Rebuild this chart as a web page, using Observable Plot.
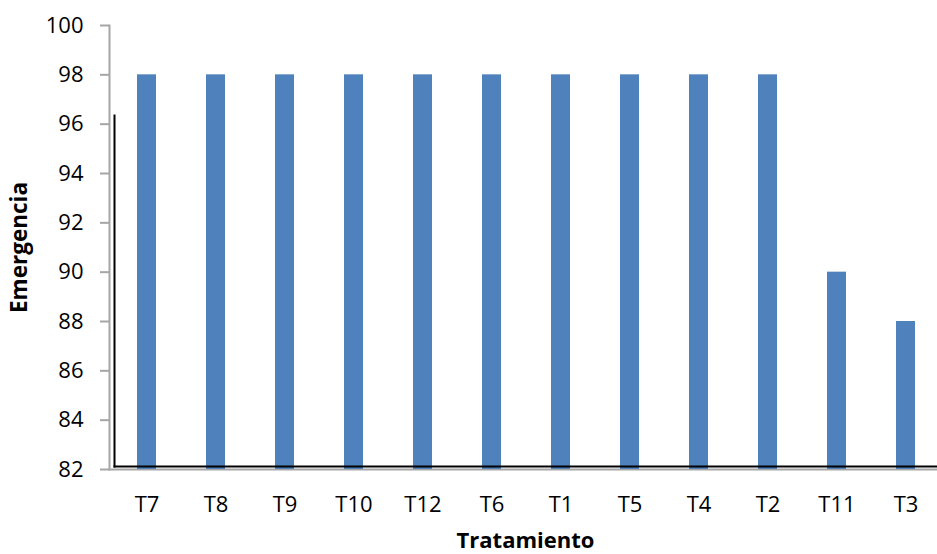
<!DOCTYPE html>
<html>
<head>
<meta charset="utf-8">
<script src="https://cdn.jsdelivr.net/npm/d3@7"></script>
<script src="https://cdn.jsdelivr.net/npm/@observablehq/plot@0.6"></script>
<style>
  html, body { margin: 0; padding: 0; background: #fff; overflow: hidden; }
  #chart svg { display: block; }
</style>
</head>
<body>
<div id="chart"></div>
<script>
// Emergence (%) per treatment, sorted as displayed
const tratamientos = ["T7", "T8", "T9", "T10", "T12", "T6", "T1", "T5", "T4", "T2", "T11", "T3"];
const emergencia = [98, 98, 98, 98, 98, 98, 98, 98, 98, 98, 90, 88];
const yTicks = [82, 84, 86, 88, 90, 92, 94, 96, 98, 100];

const data = tratamientos.map((t, i) => ({t, v: emergencia[i]}));

const font = "'Open Sans', Lato, sans-serif";
const axisGray = "#a6a6a6";

const plot = Plot.plot({
  width: 937,
  height: 554,
  marginLeft: 109,
  marginRight: 0,
  marginTop: 25,
  marginBottom: 85,
  style: {fontFamily: font, background: "#fff", color: "#000"},
  x: {domain: tratamientos, range: [109, 942], paddingInner: 0.726, paddingOuter: 0.363},
  y: {domain: [82, 100]},
  marks: [
    // axis lines
    Plot.frame({anchor: "left", stroke: axisGray, strokeWidth: 2}),
    Plot.frame({anchor: "bottom", stroke: axisGray, strokeWidth: 2}),
    Plot.barY(data, {x: "t", y1: 82, y2: "v", fill: "#4f81bd"}),
    // black border lines inside the plot area
    Plot.frame({anchor: "left", stroke: "#000", strokeWidth: 2, insetLeft: 5, insetTop: 90, insetBottom: 3}),
    Plot.frame({anchor: "bottom", stroke: "#000", strokeWidth: 2, insetBottom: 3, insetLeft: 5}),
    Plot.axisY(yTicks, {
      tickSize: 9, tickPadding: 17, stroke: axisGray, strokeWidth: 2,
      fontSize: 22, fill: "#000", label: null
    }),
    Plot.axisX({tickSize: 0, tickPadding: 27, fontSize: 22, fill: "#000", label: null}),
    Plot.text(["Emergencia"], {
      frameAnchor: "left", textAnchor: "middle", dx: -90, rotate: -90,
      fontSize: 22.5, fontWeight: "bold", fill: "#000"
    }),
    Plot.text(["Tratamiento"], {
      frameAnchor: "bottom", dx: 2, dy: 78,
      fontSize: 22, fontWeight: "bold", fill: "#000"
    })
  ]
});

document.getElementById("chart").appendChild(plot);
</script>
</body>
</html>
